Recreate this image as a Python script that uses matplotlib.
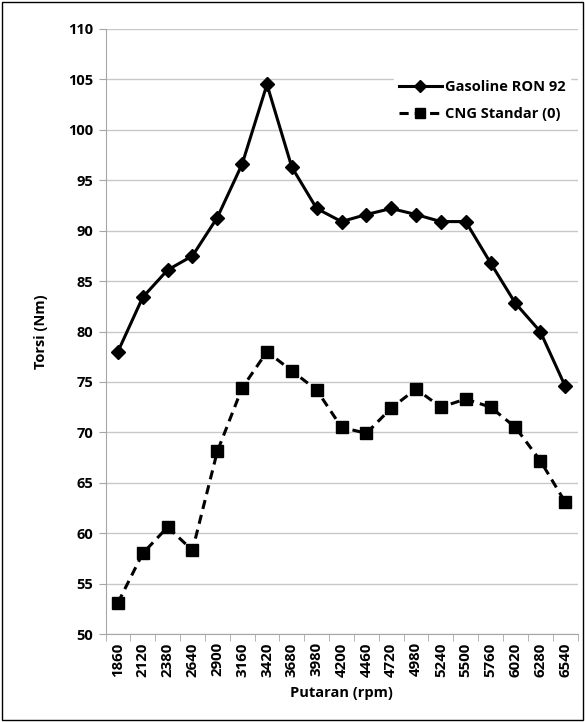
import matplotlib
matplotlib.use("Agg")
import matplotlib.pyplot as plt
from matplotlib.ticker import FixedLocator, MultipleLocator

rpm = [1860, 2120, 2380, 2640, 2900, 3160, 3420, 3680, 3980, 4200,
       4460, 4720, 4980, 5240, 5500, 5760, 6020, 6280, 6540]
gasoline = [78.0, 83.4, 86.1, 87.5, 91.3, 96.6, 104.5, 96.3, 92.2, 90.9,
            91.6, 92.2, 91.6, 90.9, 90.9, 86.8, 82.8, 80.0, 74.6]
cng = [53.1, 58.0, 60.6, 58.3, 68.1, 74.4, 78.0, 76.1, 74.2, 70.5,
       69.9, 72.4, 74.3, 72.5, 73.3, 72.5, 70.5, 67.2, 63.1]

plt.rcParams['font.family'] = ['Open Sans', 'DejaVu Sans']
plt.rcParams['font.weight'] = 'bold'

fig = plt.figure(figsize=(5.85, 7.22), dpi=100)
ax = fig.add_axes([105.5/585, 1 - 634/722, (577.5-105.5)/585, (634-29)/722])

x = list(range(len(rpm)))
ax.plot(x, gasoline, 'k-', lw=2.2, marker='D', ms=7, label='Gasoline RON 92')
ax.plot(x, cng, 'k--', lw=2.2, marker='s', ms=8.5, label='CNG Standar (0)', dashes=(3, 2))

ax.set_xlim(-0.5, len(rpm) - 0.5)
ax.set_ylim(50, 110)
ax.yaxis.set_major_locator(MultipleLocator(5))
ax.set_xticks(x)
ax.set_xticklabels([str(r) for r in rpm], rotation=90, fontsize=10.8, fontweight='bold')
ax.xaxis.set_minor_locator(FixedLocator([i - 0.5 for i in range(len(rpm) + 1)]))
ax.tick_params(axis='x', which='major', length=0, pad=6)
ax.tick_params(axis='x', which='minor', length=5, color='#a6a6a6', direction='out')
ax.tick_params(axis='y', length=5, color='#a6a6a6', labelsize=10.5, pad=4)
for lab in ax.get_yticklabels():
    lab.set_fontweight('bold')

ax.grid(axis='y', color='#c8c8c8', lw=1)
ax.set_axisbelow(True)
for s in ['top', 'right']:
    ax.spines[s].set_visible(False)
ax.spines['left'].set_color('#a6a6a6')
ax.spines['bottom'].set_color('#a6a6a6')

ax.set_ylabel('Torsi (Nm)', fontsize=10.5, fontweight='bold', labelpad=14)
ax.set_xlabel('Putaran (rpm)', fontsize=10.5, fontweight='bold', labelpad=7)

leg = ax.legend(loc='upper right', bbox_to_anchor=(1.0, 0.935), frameon=True,
                fancybox=False, edgecolor='white', framealpha=1,
                fontsize=10.5, handlelength=3.0, borderpad=0.3,
                labelspacing=0.9, handletextpad=0.2, markerscale=0.85)
for t in leg.get_texts():
    t.set_fontweight('bold')

fig.patches.append(plt.Rectangle((2/585, 2/722), 581/585, 718/722, transform=fig.transFigure,
                                 fill=False, edgecolor='black', lw=1))
fig.savefig('out.png', dpi=100)
